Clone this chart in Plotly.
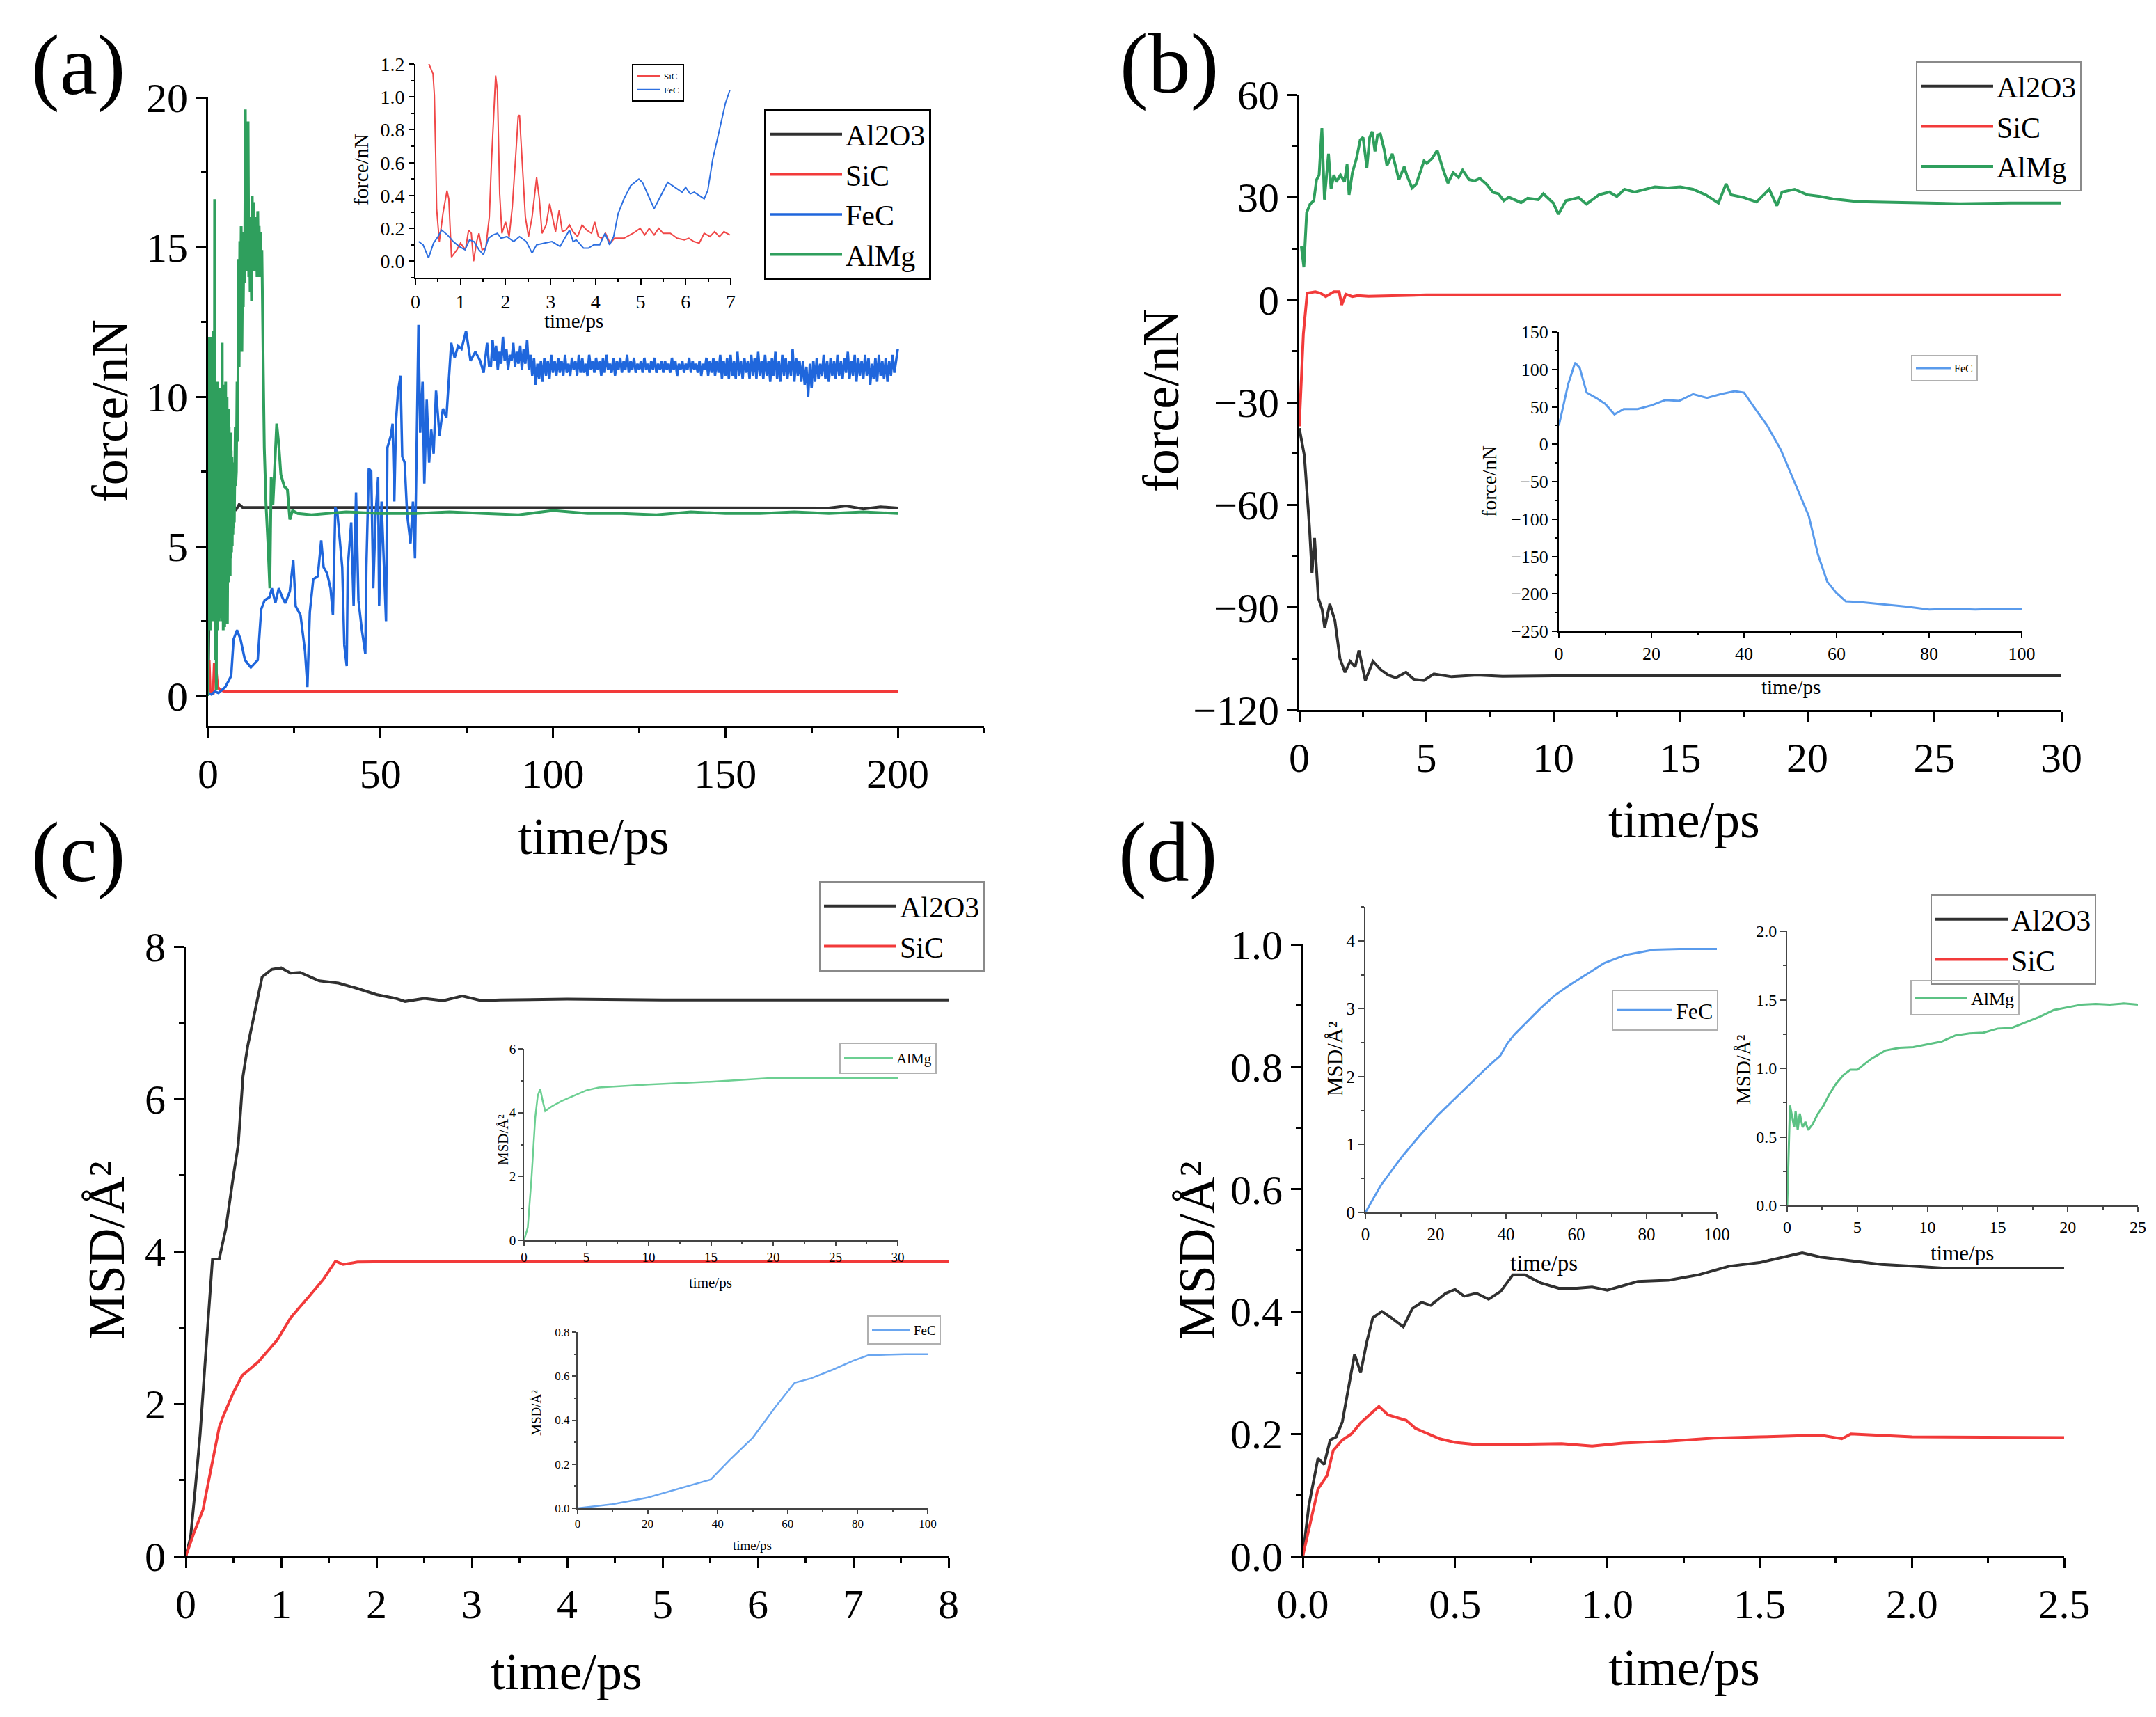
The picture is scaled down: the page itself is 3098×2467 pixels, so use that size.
import plotly.graph_objects as go

W, H = 3098, 2467
OFF = 8  # page body margin of the html page
FW, FH = W - 2 * OFF, H - 2 * OFF
FONT = "Liberation Serif"

C_AL2O3 = "#303030"
C_SIC = "#f23a3a"
C_FEC = "#1f66dc"
C_ALMG = "#2f9f5d"
C_FEC_IN = "#5a9bec"
C_ALMG_IN = "#5cc284"

# ---------------- (a) force, 0-200 ps ----------------
a_al2o3_t = [0, 0.5, 1, 1.5, 2, 2.5, 3, 3.5, 4, 5, 6, 7, 8, 9, 10, 20, 50, 100, 150, 180, 185, 190, 195, 200]
a_al2o3_v = [0, 5, 3, 7.5, 4, 8, 5, 7, 5.5, 6.8, 5.9, 6.5, 6.2, 6.4, 6.3, 6.3, 6.3, 6.3, 6.3, 6.28, 6.35, 6.25, 6.32, 6.28]

a_sic_t = [0, 0.3, 0.6, 1.0, 1.5, 1.8, 2.3, 2.8, 3.5, 5, 10, 50, 100, 150, 200]
a_sic_v = [0.9, 1.2, 0.2, 0.1, 0.1, 1.1, 0.9, 0.3, 0.2, 0.15, 0.15, 0.15, 0.15, 0.15, 0.15]

# FeC, irregular part up to ~81 ps
a_fec_t = [0, 1, 2, 3, 4, 5, 6.7, 7.4, 8.4, 9.4, 10.7, 12.4, 14.4, 15.4, 16.4, 17.8, 18.5, 19.5,
           20.5, 21.5, 22.4, 23.7, 24.7, 25.4, 26.8, 28.1, 28.8, 29.5, 30.5, 31.8, 32.8, 33.5,
           34.5, 35.5, 36.2, 36.9, 37.5, 38.2, 38.9, 39.5, 40.2, 40.5, 41.5, 42.2, 42.9, 43.6,
           44.6, 45.6, 45.9, 46.6, 47.3, 47.9, 48.6, 49.3, 49.6, 50.3, 51.0, 51.6, 52.0, 53.0,
           53.5, 54.0, 54.5, 55.1, 55.8, 56.3, 57.0, 57.7, 58.7, 59.4, 60.0, 60.6, 61.0, 61.5,
           62.2, 62.7, 63.4, 64.1, 64.7, 65.4, 66.1, 67.1, 68.1, 69.1, 69.8, 70.5, 71.5, 72.5,
           73.5, 74.8, 76.1, 77.5, 78.9, 79.9, 80.9, 81.5]
a_fec_v = [0.1, 0.05, 0.15, 0.1, 0.2, 0.3, 0.67, 1.9, 2.2, 1.9, 1.2, 0.95, 1.2, 2.9, 3.2, 3.3, 3.6, 3.1,
           3.6, 3.3, 3.1, 3.5, 4.55, 3.0, 2.7, 1.5, 0.3, 2.8, 3.9, 4.0, 5.2, 4.3,
           4.1, 3.6, 2.7, 6.3, 6.1, 5.2, 4.3, 1.7, 1.0, 4.3, 5.8, 3.0, 6.8, 3.2,
           2.2, 1.4, 4.3, 7.6, 7.5, 3.6, 6.1, 7.3, 3.0, 6.5, 4.5, 2.5, 8.3, 8.7,
           9.1, 6.5, 9.2, 10.2, 10.7, 8.0, 7.8, 6.1, 5.1, 6.5, 4.6, 9.0, 12.4, 8.8,
           10.5, 7.1, 9.9, 7.8, 8.9, 8.1, 10.2, 8.7, 9.6, 9.3, 10.7, 11.8, 11.3, 11.7,
           11.6, 12.2, 11.2, 11.5, 11.2, 10.8, 11.8, 11.0]
# FeC, steady part sampled every 0.5 ps from 82 ps
a_fec_tail_v = [
    11.0, 11.9, 11.2, 11.7, 10.9, 11.5, 11.1, 12.0, 11.2, 11.6, 10.9, 11.4, 11.2, 11.8, 11.0, 11.5, 11.1, 11.7, 10.9, 11.6,
    11.1, 11.9, 10.9, 11.4, 10.7, 11.3, 10.4, 11.1, 10.6, 11.2, 10.5, 11.3, 10.7, 11.2, 10.6, 11.4, 10.8, 11.2, 10.7, 11.3,
    10.8, 11.2, 10.7, 11.4, 10.8, 11.1, 10.7, 11.3, 10.9, 11.2, 10.7, 11.4, 10.8, 11.3, 10.8, 11.1, 10.7, 11.4, 10.9, 11.2,
    10.8, 11.3, 10.9, 11.2, 10.7, 11.3, 10.8, 11.4, 10.9, 11.1, 10.8, 11.3, 10.7, 11.2, 10.9, 11.3, 10.8, 11.2, 10.9, 11.4,
    10.8, 11.2, 10.9, 11.3, 10.8, 11.1, 10.9, 11.2, 10.8, 11.3, 10.9, 11.1, 10.8, 11.2, 10.9, 11.3, 10.8, 11.1, 10.9, 11.2,
    10.8, 11.2, 10.9, 11.1, 10.8, 11.3, 10.9, 11.2, 10.7, 11.1, 10.9, 11.2, 10.8, 11.1, 10.9, 11.3, 10.8, 11.2, 10.9, 11.1,
    10.8, 11.2, 10.7, 11.1, 10.9, 11.3, 10.7, 11.2, 10.8, 11.3, 10.7, 11.2, 10.8, 11.4, 10.6, 11.2, 10.7, 11.3, 10.6, 11.4,
    10.7, 11.2, 10.6, 11.5, 10.7, 11.2, 10.6, 11.3, 10.8, 11.2, 10.6, 11.4, 10.7, 11.3, 10.6, 11.5, 10.7, 11.2, 10.6, 11.4,
    10.7, 11.2, 10.5, 11.3, 10.7, 11.5, 10.6, 11.2, 10.5, 11.4, 10.7, 11.3, 10.6, 11.2, 10.7, 11.6, 10.5, 11.3, 10.7, 11.2,
    10.5, 11.2, 10.4, 11.0, 10.0, 11.1, 10.3, 11.2, 10.5, 11.3, 10.6, 11.1, 10.7, 11.4, 10.6, 11.2, 10.5, 11.3, 10.7, 11.2,
    10.6, 11.4, 10.7, 11.2, 10.6, 11.3, 10.8, 11.5, 10.6, 11.2, 10.7, 11.4, 10.5, 11.3, 10.7, 11.2, 10.6, 11.4, 10.7, 11.3,
    10.4, 11.1, 10.6, 11.3, 10.5, 11.4, 10.7, 11.2, 10.6, 11.3, 10.5, 11.2, 10.7, 11.4, 10.8, 11.2, 11.6,
]
a_fec_tail_t = [82 + 0.5 * i for i in range(len(a_fec_tail_v))]

a_almg_t = [0, 0.1, 0.2, 0.3, 0.4, 0.5, 0.6, 0.7, 0.8, 0.9, 1.0, 1.1, 1.2, 1.3, 1.4, 1.5, 1.6, 1.7,
            1.8, 1.9, 2.0, 2.1, 2.2, 2.3, 2.4, 2.5, 2.6, 2.7, 2.8, 2.9, 3.0, 3.1, 3.2, 3.3, 3.4,
            3.5, 3.6, 3.7, 3.8, 3.9, 4.0, 4.1, 4.2, 4.3, 4.4, 4.5, 4.6, 4.7, 4.8, 4.9, 5.0, 5.1,
            5.2, 5.3, 5.4, 5.5, 5.6, 5.7, 5.8, 5.9, 6.0, 6.1, 6.2, 6.3, 6.4, 6.5, 6.6, 6.7, 6.8,
            6.9, 7.0, 7.1, 7.2, 7.3, 7.4, 7.5, 7.6, 7.7, 7.8, 7.9, 8.0,
            8.2, 8.4, 8.6, 8.8, 9.0, 9.2, 9.4, 9.6, 9.8, 10.0, 10.2, 10.4, 10.6, 10.8, 11.0, 11.2,
            11.4, 11.6, 11.8, 12.0, 12.2, 12.4, 12.6, 12.8, 13.0, 13.2, 13.4, 13.6, 13.8, 14.0,
            14.2, 14.4, 14.6, 14.8, 15.0, 15.2, 15.4, 15.6, 15.8, 16.0, 16.3,
            16.8, 17.4, 17.9, 18.3, 18.8, 19.5, 19.9, 20.5, 21.1, 22.1, 23.0, 23.7, 24.5, 26,
            30, 40, 50, 60, 70, 80, 90, 100, 110, 120, 130, 140, 150, 160, 170, 180, 190, 200]
a_almg_v = [0, 9, 3, 12, 2.5, 11, 3.5, 11.5, 2.2, 10, 4, 12, 3, 10.5, 2.5, 12.2, 3.5, 9.5,
            2.8, 16.6, 4, 11, 1.2, 8, 0.2, 7, 2.5, 10.5, 2.2, 9.8, 3, 10.2, 2.5, 9.5, 2.8,
            10.3, 3.2, 9.8, 2.6, 10.5, 3.5, 11.8, 2.5, 9.8, 2.2, 10.4, 3, 10.2, 2.3, 9.6, 3.2, 10.5,
            2.8, 9.4, 3.4, 10, 2.4, 9.2, 3.5, 9.6, 3.8, 9, 4.2, 8.6, 4, 8.8, 4.6, 8.2, 4.8,
            8, 5, 7.6, 5.4, 7.8, 5.6, 7.4, 5.8, 8.5, 6.2, 9, 7,
            7.5, 10.5, 8.5, 14.6, 11, 15.2, 12.5, 15.7, 11.5, 14.5, 13, 15.5, 13.8, 19.6, 15, 18.5,
            14.2, 19.2, 14, 16, 13.5, 15.4, 13.2, 16.7, 14.2, 16.5, 14.5, 16.0, 14.2, 15.8,
            14.0, 16.2, 14.5, 15.7, 14, 15.5, 14.2, 14.9, 12, 10.9, 8.3,
            6.4, 5.0, 3.6, 7.3, 6.4, 8.1, 9.1, 8.4, 7.4, 7.0, 6.9, 5.9, 6.2, 6.1,
            6.05, 6.15, 6.1, 6.1, 6.15, 6.1, 6.05, 6.2, 6.1, 6.1, 6.05, 6.15, 6.1, 6.1, 6.15, 6.1, 6.15, 6.1]

# (a) inset, 0-7 ps
ai_sic_t = [0.28, 0.30, 0.39, 0.42, 0.45, 0.47, 0.53, 0.61, 0.70, 0.74, 0.80, 0.92, 1.0, 1.11, 1.18,
            1.24, 1.29, 1.36, 1.41, 1.48, 1.56, 1.64, 1.69, 1.75, 1.78, 1.82, 1.87, 1.92, 2.0, 2.08,
            2.15, 2.23, 2.28, 2.31, 2.36, 2.44, 2.51, 2.59, 2.69, 2.75, 2.81, 2.90, 2.98, 3.04, 3.11,
            3.19, 3.26, 3.34, 3.42, 3.50, 3.60, 3.70, 3.80, 3.91, 3.98, 4.06, 4.14, 4.22, 4.32, 4.42,
            4.63, 4.83, 4.99, 5.09, 5.19, 5.30, 5.40, 5.50, 5.66, 5.81, 5.97, 6.07, 6.18, 6.30, 6.41,
            6.54, 6.64, 6.75, 6.85, 6.98]
ai_sic_v = [1.25, 1.2, 1.14, 1.01, 0.63, 0.32, 0.12, 0.29, 0.43, 0.38, 0.025, 0.07, 0.11, 0.07, 0.19,
            0.17, 0.0, 0.12, 0.17, 0.07, 0.08, 0.27, 0.62, 0.97, 1.13, 1.04, 0.41, 0.17, 0.24, 0.15,
            0.33, 0.66, 0.88, 0.89, 0.63, 0.27, 0.15, 0.27, 0.51, 0.38, 0.17, 0.22, 0.35, 0.27, 0.18,
            0.31, 0.18, 0.19, 0.22, 0.18, 0.15, 0.22, 0.19, 0.17, 0.24, 0.15, 0.14, 0.17, 0.11, 0.14,
            0.14, 0.17, 0.20, 0.16, 0.20, 0.16, 0.20, 0.17, 0.17, 0.14, 0.13, 0.14, 0.12, 0.11, 0.17,
            0.15, 0.18, 0.15, 0.18, 0.16]
ai_fec_t = [0.07, 0.17, 0.29, 0.40, 0.50, 0.58, 0.71, 0.84, 0.97, 1.10, 1.20, 1.30, 1.41, 1.51, 1.62,
            1.72, 1.82, 1.90, 2.03, 2.18, 2.31, 2.46, 2.59, 2.69, 2.85, 3.03, 3.21, 3.32, 3.42, 3.50,
            3.57, 3.73, 3.84, 3.96, 4.09, 4.21, 4.31, 4.40, 4.50, 4.63, 4.78, 4.96, 5.04, 5.30, 5.60,
            5.76, 5.92, 6.00, 6.10, 6.19, 6.41, 6.49, 6.60, 6.75, 6.88, 6.98]
ai_fec_v = [0.12, 0.10, 0.02, 0.11, 0.15, 0.19, 0.16, 0.12, 0.09, 0.07, 0.13, 0.12, 0.07, 0.04, 0.14,
            0.16, 0.17, 0.14, 0.15, 0.12, 0.15, 0.12, 0.05, 0.10, 0.11, 0.12, 0.09, 0.14, 0.19, 0.12,
            0.13, 0.08, 0.08, 0.10, 0.10, 0.17, 0.10, 0.15, 0.29, 0.38, 0.46, 0.50, 0.48, 0.32, 0.48,
            0.45, 0.42, 0.45, 0.41, 0.42, 0.38, 0.43, 0.62, 0.80, 0.96, 1.04]

# ---------------- (b) force, 0-30 ps ----------------
b_al2o3_t = [0, 0.2, 0.4, 0.5, 0.6, 0.75, 0.9, 1.0, 1.2, 1.4, 1.6, 1.8, 2.0, 2.2, 2.35, 2.6, 2.9,
             3.2, 3.5, 3.8, 4.2, 4.5, 4.9, 5.3, 6, 7, 8, 10, 15, 20, 25, 30]
b_al2o3_v = [-37.6, -45.6, -66.5, -80, -69.7, -87.3, -90.6, -96, -89, -93.8, -105, -109, -105.8,
             -107.4, -102.6, -111.4, -105.8, -108.2, -109.8, -110.6, -109, -111, -111.4, -109.5,
             -110.3, -109.8, -110.2, -110, -110, -110, -110, -110]
b_sic_t = [0, 0.16, 0.31, 0.63, 0.84, 1.04, 1.36, 1.57, 1.67, 1.83, 2.09, 2.3, 2.72, 5, 10, 20, 30]
b_sic_v = [-37, -10, 1.9, 2.3, 1.9, 0.9, 2.3, 2.3, -1.5, 1.6, 0.9, 1.2, 1.0, 1.4, 1.4, 1.4, 1.4]
b_almg_t = [0.08, 0.18, 0.29, 0.42, 0.57, 0.68, 0.78, 0.89, 0.99, 1.15, 1.25, 1.36, 1.46, 1.62, 1.78,
            1.88, 1.96, 2.09, 2.25, 2.40, 2.51, 2.66, 2.77, 2.87, 2.98, 3.08, 3.19, 3.34, 3.45, 3.66,
            3.76, 3.92, 4.13, 4.23, 4.44, 4.60, 4.91, 5.02, 5.22, 5.43, 5.64, 5.85, 6.06, 6.27, 6.43,
            6.69, 6.90, 7.11, 7.37, 7.63, 7.84, 8.05, 8.25, 8.46, 8.73, 8.99, 9.40, 9.61,
            10.0, 10.2, 10.5, 11.0, 11.3, 11.8, 12.2, 12.5, 12.8,
            13.2, 13.6, 14.0, 14.5, 15.0, 15.5, 16.0, 16.5, 16.8, 17.0, 17.5, 18.0, 18.5, 18.8,
            19.0, 19.5, 20.0, 20.5, 21.0, 22, 24, 26, 28, 30]
b_almg_v = [15.6, 9.5, 25.5, 27.9, 29, 35.1, 36.5, 50.2, 29.3, 42.7, 32.4, 36.5, 34.5, 36.5, 34.5,
            39.6, 30.7, 37.2, 41.3, 46.8, 47.5, 38.6, 47.5, 49.2, 43.4, 48.2, 48.5, 44, 39.2, 42.7,
            39.9, 35.1, 38.9, 36.5, 32.7, 33.8, 40.6, 39.9, 41.3, 43.7, 38.6, 34.1, 37.2, 35.8, 37.9,
            35.1, 34.8, 35.5, 33.8, 31.4, 31, 29, 30, 29.3, 28.4, 29.7, 29.3, 31,
            28.3, 25, 29, 29.9, 28, 30.7, 31.5, 30.2, 32.3,
            31.5, 32.3, 33, 32.7, 33, 32.3, 30.7, 28.3, 33.9, 30.7, 29.9, 28.6, 32.3, 27.5,
            31.5, 32.3, 30.7, 30.2, 29.5, 28.7, 28.3, 28.1, 28.3, 28.3]

# (b) inset, FeC 0-100 ps
bi_fec_t = [0, 2, 3.5, 4.5, 6, 8, 10, 12, 14, 17, 20, 23, 26, 29, 32, 35, 38, 40, 42, 45, 48, 50,
            52, 54, 56, 58, 60, 62, 65, 70, 75, 80, 85, 90, 95, 100]
bi_fec_v = [25, 80, 109, 102, 69, 62, 54, 40, 47, 47, 52, 59, 58, 67, 62, 67, 71, 69, 51, 25, -8, -37,
            -67, -96, -148, -184, -199, -210, -211, -214, -217, -221, -220, -221, -220, -220]

# ---------------- (c) MSD, 0-8 ps ----------------
c_al2o3_t = [0, 0.05, 0.1, 0.15, 0.2, 0.25, 0.28, 0.35, 0.42, 0.5, 0.55, 0.6, 0.65, 0.7, 0.75, 0.8,
             0.9, 1.0, 1.1, 1.2, 1.4, 1.6, 1.8, 2.0, 2.2, 2.3, 2.5, 2.7, 2.9, 3.1, 3.3, 4, 5, 6, 7, 8]
c_al2o3_v = [0, 0.25, 0.9, 1.6, 2.5, 3.4, 3.9, 3.9, 4.3, 5.0, 5.4, 6.3, 6.7, 7.0, 7.3, 7.6,
             7.7, 7.72, 7.65, 7.66, 7.55, 7.52, 7.45, 7.37, 7.32, 7.28, 7.32, 7.29, 7.35, 7.29, 7.3,
             7.31, 7.3, 7.3, 7.3, 7.3]
c_sic_t = [0, 0.08, 0.18, 0.28, 0.35, 0.39, 0.5, 0.59, 0.76, 0.96, 1.1, 1.3, 1.44, 1.57, 1.65, 1.8,
           2.5, 4, 6, 8]
c_sic_v = [0, 0.29, 0.61, 1.26, 1.69, 1.83, 2.15, 2.37, 2.55, 2.84, 3.13, 3.42, 3.63, 3.87, 3.83, 3.86,
           3.87, 3.87, 3.87, 3.87]

# (c) insets
ci_almg_t = [0, 0.3, 0.6, 0.9, 1.1, 1.3, 1.5, 1.7, 2.2, 3, 4, 5, 6, 8, 10, 15, 20, 25, 30]
ci_almg_v = [0, 0.4, 1.95, 3.85, 4.53, 4.74, 4.36, 4.05, 4.19, 4.36, 4.53, 4.7, 4.79, 4.84, 4.88,
             4.97, 5.09, 5.09, 5.09]
ci_fec_t = [0, 10, 20, 30, 38, 43.5, 50, 56.5, 62, 66.7, 73, 78.7, 83, 93.5, 100]
ci_fec_v = [0, 0.018, 0.048, 0.093, 0.13, 0.22, 0.32, 0.46, 0.57, 0.59, 0.63, 0.67, 0.695, 0.70, 0.70]

# ---------------- (d) MSD, 0-2.5 ps ----------------
d_al2o3_t = [0, 0.02, 0.05, 0.07, 0.09, 0.11, 0.13, 0.155, 0.17, 0.19, 0.21, 0.23, 0.26, 0.29, 0.33,
             0.36, 0.39, 0.42, 0.47, 0.5, 0.53, 0.57, 0.61, 0.65, 0.69, 0.73, 0.78, 0.84, 0.9, 0.95,
             1.0, 1.1, 1.2, 1.3, 1.4, 1.5, 1.58, 1.64, 1.7, 1.8, 1.9, 2.0, 2.1, 2.2, 2.3, 2.5]
d_al2o3_v = [0, 0.083, 0.16, 0.15, 0.19, 0.195, 0.22, 0.29, 0.33, 0.30, 0.35, 0.39, 0.40, 0.39, 0.375,
             0.405, 0.415, 0.41, 0.43, 0.436, 0.425, 0.43, 0.42, 0.433, 0.46, 0.46, 0.447, 0.438,
             0.438, 0.44, 0.435, 0.449, 0.451, 0.46, 0.474, 0.48, 0.489, 0.496, 0.489, 0.483, 0.477,
             0.474, 0.471, 0.471, 0.471, 0.471]
d_sic_t = [0, 0.03, 0.05, 0.08, 0.1, 0.13, 0.16, 0.19, 0.22, 0.25, 0.28, 0.31, 0.34, 0.37, 0.41, 0.45,
           0.5, 0.58, 0.7, 0.85, 0.95, 1.05, 1.2, 1.35, 1.5, 1.7, 1.77, 1.8, 2.0, 2.25, 2.5]
d_sic_v = [0, 0.065, 0.11, 0.132, 0.173, 0.19, 0.2, 0.218, 0.231, 0.245, 0.231, 0.227, 0.222, 0.209,
           0.2, 0.192, 0.186, 0.182, 0.183, 0.184, 0.18, 0.185, 0.188, 0.193, 0.195, 0.198, 0.192,
           0.2, 0.195, 0.195, 0.194]

# (d) insets
di_fec_t = [0, 4.4, 10.1, 14.9, 20.6, 25.4, 30.3, 35.1, 38.4, 40.4, 42.4, 45.6, 49.7, 53.7, 57.8,
            61.8, 67.9, 73.9, 82, 89.3, 100]
di_fec_v = [0, 0.4, 0.8, 1.1, 1.43, 1.67, 1.92, 2.16, 2.31, 2.49, 2.62, 2.79, 3.0, 3.19, 3.34,
            3.47, 3.67, 3.79, 3.87, 3.88, 3.88]
di_almg_t = [0, 0.1, 0.2, 0.35, 0.5, 0.6, 0.75, 0.9, 1.1, 1.3, 1.5, 1.8, 2.2, 2.6, 3.0, 3.5, 4.0,
             4.5, 5.0, 5.5, 6, 7, 8, 9, 10, 11, 12, 13, 14, 15, 16, 17, 18, 19, 20, 21, 22, 23, 24, 25]
di_almg_v = [0, 0.41, 0.73, 0.65, 0.57, 0.69, 0.55, 0.67, 0.57, 0.61, 0.55, 0.59, 0.67, 0.73, 0.81,
             0.89, 0.95, 0.99, 0.99, 1.03, 1.07, 1.13, 1.15, 1.155, 1.175, 1.195, 1.24, 1.255, 1.26,
             1.29, 1.295, 1.335, 1.376, 1.425, 1.445, 1.465, 1.47, 1.465, 1.473, 1.465]


# page pixel -> paper fraction
def fx(px):
    return (px - OFF) / FW


def fy(py):
    return 1 - (py - OFF) / FH


def px_x(x0, x1):
    return [fx(x0), fx(x1)]


def px_y(top, bottom):
    return [fy(bottom), fy(top)]


def make_axis(domain, rng, dtick, minor, anchor, size, fmt=None, lw=3, tl=14, color="black"):
    return dict(
        domain=domain, range=rng, anchor=anchor, tick0=0, dtick=dtick, automargin=False,
        showline=True, linecolor=color, linewidth=lw, mirror=False,
        ticks="outside", ticklen=tl, tickwidth=lw, tickcolor=color,
        showgrid=False, zeroline=False, tickformat=fmt,
        tickfont=dict(family=FONT, size=size, color="black"),
        minor=dict(tick0=0, dtick=minor, ticks="outside", ticklen=int(tl * 0.55),
                   tickwidth=lw, tickcolor=color, showgrid=False),
    )


fig = go.Figure()


def add(t, v, name, color, width, n, legend, show=True):
    fig.add_trace(go.Scatter(
        x=t, y=v, mode="lines", name=name, showlegend=show,
        line=dict(color=color, width=width),
        xaxis="x" if n == 1 else f"x{n}", yaxis="y" if n == 1 else f"y{n}",
        legend=legend,
    ))


# (a)
add(a_al2o3_t, a_al2o3_v, "Al2O3", C_AL2O3, 4, 1, "legend")
add(a_sic_t, a_sic_v, "SiC", C_SIC, 4, 1, "legend")
add(a_fec_t, a_fec_v, "FeC", C_FEC, 3.5, 1, "legend")
add(a_fec_tail_t, a_fec_tail_v, "FeC", C_FEC, 3.5, 1, "legend", show=False)
add(a_almg_t, a_almg_v, "AlMg", C_ALMG, 4, 1, "legend")
add(ai_sic_t, ai_sic_v, "SiC", "#f04848", 2, 2, "legend2")
add(ai_fec_t, ai_fec_v, "FeC", "#2d6fe0", 2, 2, "legend2")
# (b)
add(b_al2o3_t, b_al2o3_v, "Al2O3", C_AL2O3, 4, 3, "legend3")
add(b_sic_t, b_sic_v, "SiC", C_SIC, 4, 3, "legend3")
add(b_almg_t, b_almg_v, "AlMg", C_ALMG, 4, 3, "legend3")
add(bi_fec_t, bi_fec_v, "FeC", C_FEC_IN, 3, 4, "legend4")
# (c)
add(c_al2o3_t, c_al2o3_v, "Al2O3", C_AL2O3, 4, 5, "legend5")
add(c_sic_t, c_sic_v, "SiC", C_SIC, 4, 5, "legend5")
add(ci_almg_t, ci_almg_v, "AlMg", "#6ccf92", 2.5, 6, "legend6")
add(ci_fec_t, ci_fec_v, "FeC", "#6aa6f0", 2.5, 7, "legend7")
# (d)
add(d_al2o3_t, d_al2o3_v, "Al2O3", C_AL2O3, 4, 8, "legend8")
add(d_sic_t, d_sic_v, "SiC", C_SIC, 4, 8, "legend8")
add(di_fec_t, di_fec_v, "FeC", C_FEC_IN, 3, 9, "legend9")
add(di_almg_t, di_almg_v, "AlMg", C_ALMG_IN, 3, 10, "legend10")

layout = dict(
    template="none",
    width=FW, height=FH, margin=dict(l=0, r=0, t=0, b=0, autoexpand=False),
    paper_bgcolor="white", plot_bgcolor="rgba(0,0,0,0)", showlegend=True,
    font=dict(family=FONT, color="black"),
)

# main panels
layout["xaxis"] = make_axis(px_x(299, 1414), [0, 225], 50, 25, "y", 60)
layout["yaxis"] = make_axis(px_y(140, 1043), [-1, 20], 5, 2.5, "x", 60)
layout["xaxis3"] = make_axis(px_x(1867, 2962), [0, 30], 5, 2.5, "y3", 60)
layout["yaxis3"] = make_axis(px_y(136, 1020), [-120, 60], 30, 15, "x3", 60)
layout["xaxis5"] = make_axis(px_x(267, 1363), [0, 8], 1, 0.5, "y5", 60)
layout["yaxis5"] = make_axis(px_y(1360, 2236), [0, 8], 2, 1, "x5", 60)
layout["xaxis8"] = make_axis(px_x(1872, 2966), [0, 2.5], 0.5, 0.25, "y8", 60, ".1f")
layout["yaxis8"] = make_axis(px_y(1357, 2236), [0, 1], 0.2, 0.1, "x8", 60, ".1f")

# insets
layout["xaxis2"] = make_axis(px_x(597, 1050), [0, 7], 1, 0.5, "y2", 28, lw=2, tl=8)
layout["yaxis2"] = make_axis(px_y(92, 399), [-0.1, 1.2], 0.2, 0.1, "x2", 28, ".1f", lw=2, tl=8)
layout["xaxis4"] = make_axis(px_x(2240, 2905), [0, 100], 20, 10, "y4", 26, lw=2, tl=8)
layout["yaxis4"] = make_axis(px_y(477, 907), [-250, 150], 50, 25, "x4", 26, lw=2, tl=8)
layout["xaxis6"] = make_axis(px_x(753, 1290), [0, 30], 5, 2.5, "y6", 19, lw=2, tl=6, color="#444")
layout["yaxis6"] = make_axis(px_y(1507, 1782), [0, 6], 2, 1, "x6", 19, lw=2, tl=6, color="#444")
layout["xaxis7"] = make_axis(px_x(830, 1333), [0, 100], 20, 10, "y7", 17, lw=2, tl=6, color="#444")
layout["yaxis7"] = make_axis(px_y(1914, 2167), [0, 0.8], 0.2, 0.1, "x7", 17, ".1f", lw=2, tl=6, color="#444")
layout["xaxis9"] = make_axis(px_x(1962, 2467), [0, 100], 20, 10, "y9", 25, lw=2, tl=8, color="#444")
layout["yaxis9"] = make_axis(px_y(1303, 1742), [0, 4.5], 1, 0.5, "x9", 25, lw=2, tl=8, color="#444")
layout["xaxis10"] = make_axis(px_x(2568, 3072), [0, 25], 5, 2.5, "y10", 24, lw=2, tl=8, color="#444")
layout["yaxis10"] = make_axis(px_y(1338, 1732), [0, 2], 0.5, 0.25, "x10", 24, ".1f", lw=2, tl=8, color="#444")


def legend_box(x, y, size, iw, border, bw=2):
    return dict(x=fx(x), y=fy(y), xanchor="left", yanchor="top",
                font=dict(family=FONT, size=size, color="black"),
                bgcolor="rgba(255,255,255,0)", bordercolor=border, borderwidth=bw,
                itemwidth=iw, tracegroupgap=0)


layout["legend"] = legend_box(1098, 156, 42, 104, "black", 3)
layout["legend2"] = legend_box(908, 92, 13, 34, "black", 2)
layout["legend3"] = legend_box(2753, 88, 42, 104, "#8a8a8a", 2)
layout["legend4"] = legend_box(2746, 510, 16, 50, "#b0b0b0", 2)
layout["legend5"] = legend_box(1177, 1266, 42, 104, "#8a8a8a", 2)
layout["legend6"] = legend_box(1206, 1498, 21, 70, "#b0b0b0", 2)
layout["legend7"] = legend_box(1246, 1890, 19, 55, "#b0b0b0", 2)
layout["legend8"] = legend_box(2774, 1285, 42, 104, "#8a8a8a", 2)
layout["legend9"] = legend_box(2316, 1422, 32, 80, "#b0b0b0", 2)
layout["legend10"] = legend_box(2745, 1408, 26, 75, "#b0b0b0", 2)

fig.update_layout(**layout)


def label(x, y, text, size, angle=0):
    fig.add_annotation(x=fx(x), y=fy(y), xref="paper", yref="paper", text=text,
                       showarrow=False, textangle=angle, xanchor="center", yanchor="middle",
                       font=dict(family=FONT, size=size, color="black"))


# panel letters
label(113, 94, "(a)", 122)
label(1680, 92, "(b)", 122)
label(113, 1225, "(c)", 122)
label(1678, 1225, "(d)", 122)

# main axis titles
label(853, 1202, "time/ps", 74)
label(158, 591, "force/nN", 74, -90)
label(2420, 1178, "time/ps", 74)
label(1668, 576, "force/nN", 74, -90)
label(814, 2402, "time/ps", 74)
label(153, 1797, "MSD/Å²", 74, -90)
label(2420, 2396, "time/ps", 74)
label(1720, 1797, "MSD/Å²", 74, -90)

# inset axis titles
label(824, 461, "time/ps", 29)
label(519, 244, "force/nN", 29, -90)
label(2573, 987, "time/ps", 29)
label(2140, 692, "force/nN", 29, -90)
label(1021, 1843, "time/ps", 21)
label(723, 1638, "MSD/Å²", 21, -90)
label(1081, 2220, "time/ps", 19)
label(770, 2030, "MSD/Å²", 19, -90)
label(2218, 1815, "time/ps", 33)
label(1918, 1521, "MSD/Å²", 31, -90)
label(2819, 1800, "time/ps", 31)
label(2505, 1537, "MSD/Å²", 29, -90)

fig.write_html("out.html")
